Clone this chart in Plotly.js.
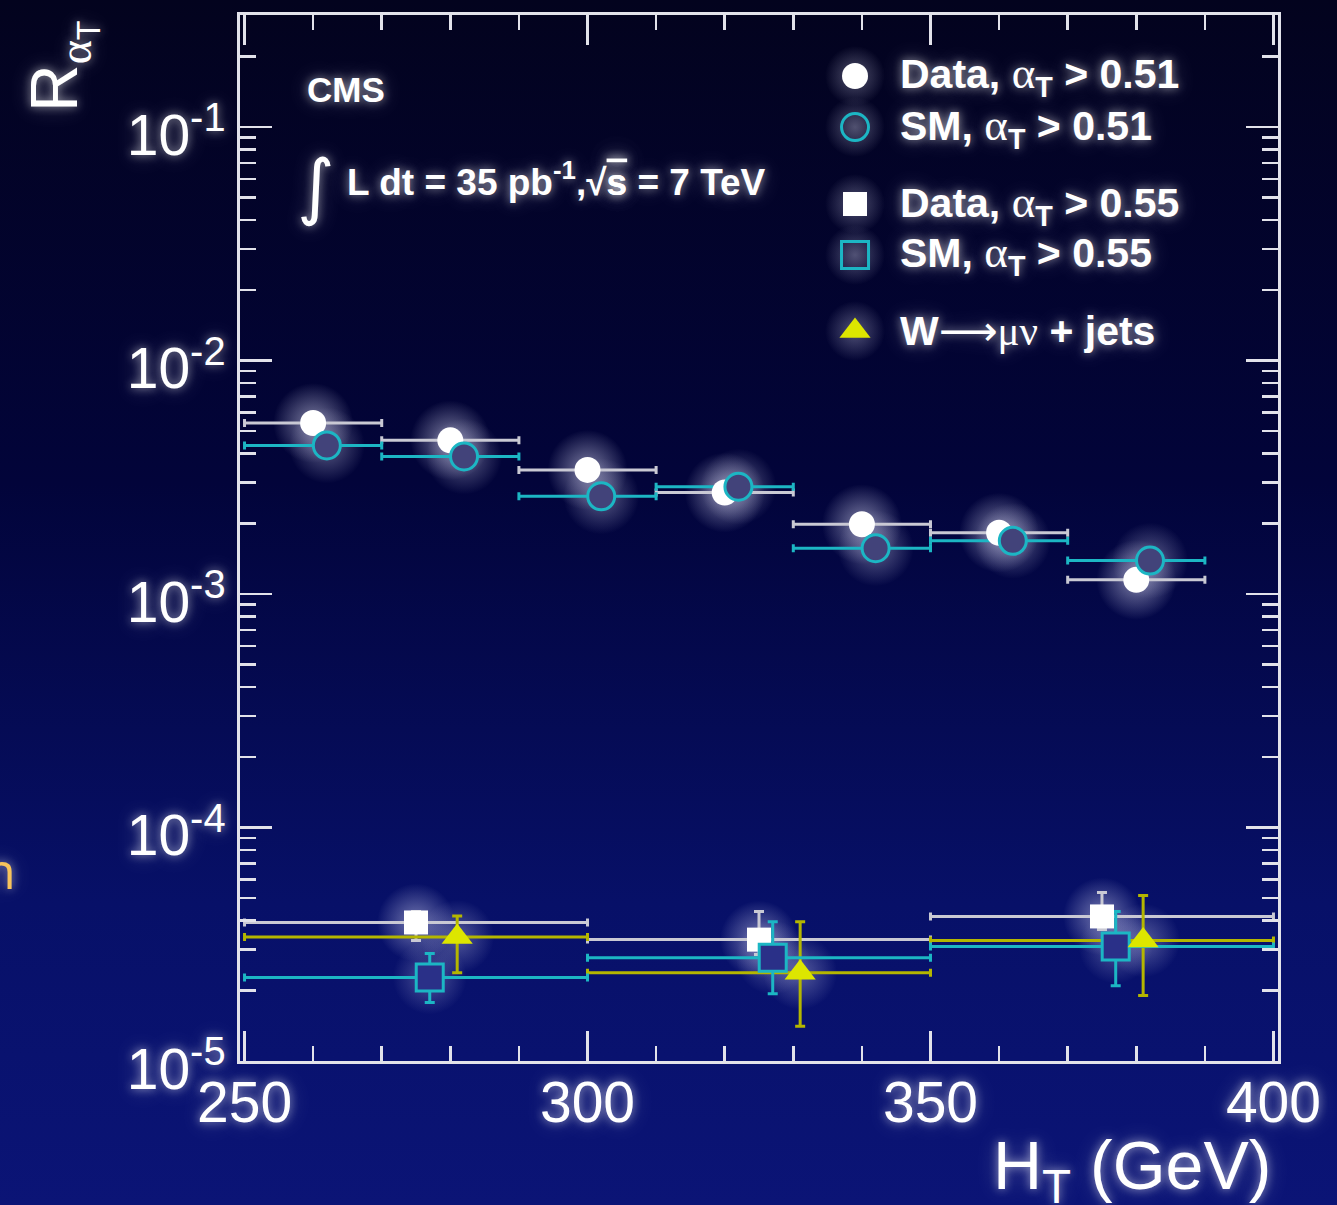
<!DOCTYPE html>
<html>
<head>
<meta charset="utf-8">
<script src="https://cdn.plot.ly/plotly-3.0.1.min.js"></script>
<style>
  html, body { margin: 0; padding: 0; }
  body {
    width: 1337px; height: 1205px; overflow: hidden;
    background: linear-gradient(to bottom, #03031e 0%, #02043a 40%, #071068 75%, #0b1476 100%);
  }
  #chart { width: 1337px; height: 1205px; }
  #chart .annotation-text, #chart .xtick text, #chart .ytick text {
    text-shadow: 0 0 10px rgba(255,255,255,0.55), 0 0 22px rgba(255,255,255,0.3) !important;
  }
</style>
</head>
<body>
<div id="chart"></div>
<script>
// H_T bins for the alpha_T > 0.51 selection (GeV)
const binLo051 = [250, 270, 290, 310, 330, 350, 370];
const binHi051 = [270, 290, 310, 330, 350, 370, 390];
const dataX051 = [260, 280, 300, 320, 340, 360, 380];
const dataR051 = [5.4e-3, 4.55e-3, 3.4e-3, 2.72e-3, 1.99e-3, 1.83e-3, 1.15e-3];
const smX051   = [262, 282, 302, 322, 342, 362, 382];
const smR051   = [4.33e-3, 3.88e-3, 2.62e-3, 2.88e-3, 1.57e-3, 1.69e-3, 1.39e-3];

// H_T bins for the alpha_T > 0.55 selection (GeV)
const binLo055 = [250, 300, 350];
const binHi055 = [300, 350, 400];
const dataX055 = [275, 325, 375];
const dataR055 = [3.92e-5, 3.31e-5, 4.16e-5];
const dataUp055 = [0.45e-5, 1.06e-5, 1.11e-5];
const dataDn055 = [0.64e-5, 0.45e-5, 0.5e-5];
const smX055   = [277, 327, 377];
const smR055   = [2.28e-5, 2.77e-5, 3.09e-5];
const smUp055  = [0.61e-5, 1.18e-5, 1.28e-5];
const smDn055  = [0.50e-5, 0.83e-5, 0.99e-5];

// W -> mu nu + jets control sample
const wX  = [281, 331, 381];
const wR  = [3.40e-5, 2.39e-5, 3.28e-5];
const wUp = [0.78e-5, 1.56e-5, 1.84e-5];
const wDn = [1.01e-5, 0.98e-5, 1.37e-5];

const xTickVals = [250, 300, 350, 400];
const xTickText = ['250', '300', '350', '400'];
const yTickVals = [1e-5, 1e-4, 1e-3, 1e-2, 1e-1];
const yTickText = ['10<sup>-5</sup>', '10<sup>-4</sup>', '10<sup>-3</sup>', '10<sup>-2</sup>', '10<sup>-1</sup>'];

const SERIF = 'font-family:\'Liberation Serif\';font-size:45px';
const legendLabels = [
  '<b>Data, </b><span style="' + SERIF + '">α</span><b><sub>T</sub> &gt; 0.51</b>',
  '<b>SM, </b><span style="' + SERIF + '">α</span><b><sub>T</sub> &gt; 0.51</b>',
  '<b>Data, </b><span style="' + SERIF + '">α</span><b><sub>T</sub> &gt; 0.55</b>',
  '<b>SM, </b><span style="' + SERIF + '">α</span><b><sub>T</sub> &gt; 0.55</b>',
  '<b>W</b><span style="font-family:\'DejaVu Sans\'">⟶</span><span style="font-family:\'Liberation Serif\'">μν</span><b> + jets</b>'
];

const WHITE = '#ffffff', GREYBAR = '#c9c9d4', CYAN = '#1cb6c4', YEL = '#dde600', YELBAR = '#b4b600';
const SANS = 'Liberation Sans, Arial, sans-serif';

function lessOf(x, lo) { return x.map((v, i) => v - lo[i]); }
function moreOf(x, hi) { return hi.map((v, i) => v - x[i]); }

function errTrace(x, y, lo, hi, color, up, dn) {
  const t = {
    type: 'scatter', mode: 'markers', x: x, y: y, hoverinfo: 'skip',
    marker: { size: 1, opacity: 0 },
    error_x: { type: 'data', symmetric: false, array: moreOf(x, hi), arrayminus: lessOf(x, lo),
               color: color, thickness: 3, width: 4 }
  };
  if (up) {
    t.error_y = { type: 'data', symmetric: false, array: up, arrayminus: dn, color: color, thickness: 3, width: 5 };
  }
  return t;
}

function markTrace(x, y, marker, xa, ya) {
  return { type: 'scatter', mode: 'markers', x: x, y: y, marker: marker, hoverinfo: 'skip',
           xaxis: xa || 'x', yaxis: ya || 'y' };
}

// soft radial halo drawn underneath a set of marks (bright centre, clear rim)
function haloTrace(x, y, size, strength, xa, ya) {
  return markTrace(x, y, {
    symbol: 'circle', size: size, color: 'rgba(225,225,250,0)', line: { width: 0 },
    gradient: { type: 'radial', color: 'rgba(225,225,250,' + strength + ')' }
  }, xa, ya);
}

const mData051 = { symbol: 'circle', size: 26, color: WHITE, line: { width: 0 } };
const mSm051   = { symbol: 'circle', size: 27, color: '#42437a', line: { width: 3, color: CYAN } };
const mData055 = { symbol: 'square', size: 24, color: WHITE, line: { width: 0 } };
const mSm055   = { symbol: 'square', size: 27, color: '#2a3088', line: { width: 3, color: CYAN } };
const mW       = { symbol: 'triangle-up', size: 27, color: YEL, line: { width: 0 } };

const traces = [
  haloTrace(dataX051, dataR051, 80, 0.55),
  haloTrace(smX051, smR051, 76, 0.4),
  haloTrace(dataX055, dataR055, 78, 0.5),
  haloTrace(smX055, smR055, 74, 0.32),
  haloTrace(wX, wR, 74, 0.35),
  errTrace(dataX051, dataR051, binLo051, binHi051, GREYBAR),
  errTrace(smX051, smR051, binLo051, binHi051, CYAN),
  errTrace(dataX055, dataR055, binLo055, binHi055, GREYBAR, dataUp055, dataDn055),
  errTrace(wX, wR, binLo055, binHi055, YELBAR, wUp, wDn),
  errTrace(smX055, smR055, binLo055, binHi055, CYAN, smUp055, smDn055),
  markTrace(dataX051, dataR051, mData051),
  markTrace(smX051, smR051, mSm051),
  markTrace(dataX055, dataR055, mData055),
  markTrace(smX055, smR055, mSm055),
  markTrace(wX, wR, mW)
];

// legend key symbols, placed on an overlay axis spanning the frame
const keyX = 0.5925, keyY = [0.9417, 0.8929, 0.8193, 0.7706, 0.6979];
const keyMarkers = [mData051, mSm051, mData055, mSm055, mW];
traces.push(haloTrace(keyY.map(() => keyX), keyY, 60, 0.35, 'x2', 'y2'));
keyMarkers.forEach((m, i) => {
  const mm = Object.assign({}, m);
  if (i === 1 || i === 3) mm.color = 'rgba(0,0,0,0)';
  traces.push(markTrace([keyX], [keyY[i]], mm, 'x2', 'y2'));
});

const annotations = [];
legendLabels.forEach((txt, i) => {
  annotations.push({ xref: 'paper', yref: 'paper', x: 0.6339, y: keyY[i], xanchor: 'left', yanchor: 'middle',
    text: txt, showarrow: false, font: { family: SANS, size: 41, color: WHITE } });
});
annotations.push(
  { xref: 'paper', yref: 'paper', x: 0.0626, y: 0.9283, xanchor: 'left', yanchor: 'middle', showarrow: false,
    text: '<b>CMS</b>', font: { family: SANS, size: 35, color: WHITE } },
  { xref: 'paper', yref: 'paper', x: 0.0530, y: 0.8365, xanchor: 'left', yanchor: 'middle', showarrow: false,
    text: '∫', font: { family: 'DejaVu Sans, sans-serif', size: 72, color: WHITE } },
  { xref: 'paper', yref: 'paper', x: 0.1012, y: 0.8423, xanchor: 'left', yanchor: 'middle', showarrow: false,
    text: '<b>L dt = 35 pb<sup>-1</sup>,√<span style="text-decoration:overline">s</span> = 7 TeV</b>',
    font: { family: SANS, size: 37, color: WHITE } },
  { xref: 'paper', yref: 'paper', x: -0.1715, y: 0.9512, xanchor: 'center', yanchor: 'middle', showarrow: false,
    textangle: -90,
    text: 'R<sub><span style="font-family:\'Liberation Serif\'">α</span><sub>T</sub></sub>',
    font: { family: SANS, size: 66, color: WHITE } },
  { xref: 'paper', yref: 'paper', x: 0.995, y: -0.1042, xanchor: 'right', yanchor: 'middle', showarrow: false,
    text: 'H<sub>T</sub> (GeV)', font: { family: SANS, size: 68, color: WHITE } },
  { xref: 'paper', yref: 'paper', x: -0.2139, y: 0.1826, xanchor: 'right', yanchor: 'middle', showarrow: false,
    text: 'n', font: { family: 'Open Sans, sans-serif', size: 50, color: '#f7c45c' } }
);

const FRAME = '#e2e2ea';
const layout = {
  width: 1337, height: 1205,
  margin: { l: 240, r: 59, t: 15, b: 144, pad: 0 },
  paper_bgcolor: 'rgba(0,0,0,0)', plot_bgcolor: 'rgba(0,0,0,0)',
  showlegend: false,
  xaxis: {
    range: [249.34, 400.66], tickmode: 'array', tickvals: xTickVals, ticktext: xTickText,
    ticks: 'inside', ticklen: 30, tickwidth: 2.5, tickcolor: FRAME,
    showline: true, linecolor: FRAME, linewidth: 3, mirror: 'allticks',
    showgrid: false, zeroline: false, ticklabelstandoff: -10,
    minor: { tick0: 250, dtick: 10, ticks: 'inside', ticklen: 15, tickwidth: 2.5, tickcolor: FRAME, showgrid: false },
    tickfont: { family: SANS, size: 57, color: WHITE }
  },
  yaxis: {
    type: 'log', range: [-5, -0.5203], tickmode: 'array', tickvals: yTickVals, ticktext: yTickText,
    ticks: 'inside', ticklen: 32, tickwidth: 2.5, tickcolor: FRAME,
    showline: true, linecolor: FRAME, linewidth: 3, mirror: 'allticks',
    showgrid: false, zeroline: false, ticklabelshift: 8,
    minor: { dtick: 'D1', ticks: 'inside', ticklen: 16, tickwidth: 2.5, tickcolor: FRAME, showgrid: false },
    tickfont: { family: SANS, size: 57, color: WHITE }
  },
  xaxis2: { overlaying: 'x', range: [0, 1], visible: false, fixedrange: true },
  yaxis2: { overlaying: 'y', range: [0, 1], visible: false, fixedrange: true },
  annotations: annotations
};

Plotly.newPlot('chart', traces, layout, { staticPlot: true, displayModeBar: false });
</script>
</body>
</html>
